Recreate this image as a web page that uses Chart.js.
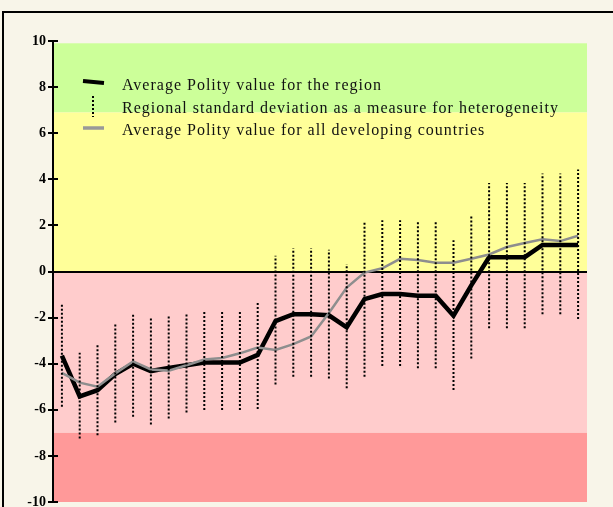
<!DOCTYPE html>
<html>
<head>
<meta charset="utf-8">
<script src="https://cdn.jsdelivr.net/npm/chart.js@4.4.0/dist/chart.umd.min.js"></script>
<style>
  html, body { margin: 0; padding: 0; background: #f8f5e9; overflow: hidden; }
  #wrap { position: relative; width: 613px; height: 507px; overflow: hidden; }
  #frame { position: absolute; left: 2px; top: 11px; width: 620px; height: 520px;
           border-top: 2px solid #000; border-left: 2px solid #000; }
  canvas { position: absolute; left: 0; top: 0; }
</style>
</head>
<body>
<div id="wrap">
  <div id="frame"></div>
  <canvas id="polityChart" width="613" height="507"></canvas>
</div>
<script>
// Polity values, one point per period (no period labels shown on the chart)
const periods = ['1', '2', '3', '4', '5', '6', '7', '8', '9', '10',
  '11', '12', '13', '14', '15', '16', '17', '18', '19', '20',
  '21', '22', '23', '24', '25', '26', '27', '28', '29', '30'];

const regionAvg = [-3.65, -5.42, -5.15, -4.45, -4.0, -4.32, -4.18, -4.07, -3.95, -3.95,
  -3.95, -3.62, -2.15, -1.85, -1.85, -1.9, -2.42, -1.2, -0.98, -0.98,
  -1.05, -1.05, -1.92, -0.6, 0.62, 0.62, 0.62, 1.15, 1.15, 1.15];

const allDeveloping = [-4.4, -4.82, -5.0, -4.42, -3.9, -4.25, -4.3, -4.07, -3.82, -3.75,
  -3.55, -3.3, -3.4, -3.15, -2.82, -1.8, -0.7, -0.05, 0.14, 0.55,
  0.5, 0.38, 0.38, 0.55, 0.74, 1.06, 1.24, 1.4, 1.32, 1.55];

// ends of the regional standard deviation bars
const sdHigh = [-1.38, -3.52, -3.19, -2.25, -1.86, -2.0, -1.91, -1.86, -1.74, -1.74,
  -1.74, -1.3, 0.68, 1.01, 1.01, 0.94, 0.32, 2.14, 2.22, 2.22,
  2.14, 2.14, 1.36, 2.39, 3.84, 3.84, 3.84, 4.25, 4.25, 4.42];
const sdLow = [-5.87, -7.25, -7.1, -6.55, -6.3, -6.64, -6.38, -6.12, -6.01, -6.01,
  -6.01, -5.97, -4.9, -4.57, -4.57, -4.64, -5.07, -4.57, -4.1, -4.1,
  -4.2, -4.2, -5.14, -3.77, -2.46, -2.46, -2.46, -1.86, -1.86, -2.06];

const yTicks = [-10, -8, -6, -4, -2, 0, 2, 4, 6, 8, 10];

// background regime bands
const bandFrom = [6.9, 0, -7, -10];
const bandTo = [9.9, 6.9, 0, -7];
const bandColors = ['#ccff99', '#ffff99', '#ffcccc', '#ff9999'];

const legendLabels = [
  'Average Polity value for the region',
  'Regional standard deviation as a measure for heterogeneity',
  'Average Polity value for all developing countries'
];

// one dotted segment per period, separated by gaps
const sdPoints = [];
periods.forEach((p, i) => {
  sdPoints.push({ x: p, y: sdLow[i] });
  sdPoints.push({ x: p, y: sdHigh[i] });
  sdPoints.push({ x: p, y: null });
});

const bandsPlugin = {
  id: 'bands',
  beforeDraw(chart) {
    const { ctx, chartArea } = chart;
    const y = chart.scales.y;
    ctx.save();
    bandFrom.forEach((from, i) => {
      const top = y.getPixelForValue(bandTo[i]);
      const bottom = y.getPixelForValue(from);
      ctx.fillStyle = bandColors[i];
      ctx.fillRect(chartArea.left, top, chartArea.right - chartArea.left, bottom - top);
    });
    ctx.restore();
  },
  afterDraw(chart) {
    const { ctx, chartArea } = chart;
    const y = chart.scales.y;
    ctx.save();
    // inner half of the cross ticks
    ctx.strokeStyle = '#000';
    ctx.lineWidth = 2;
    yTicks.forEach(v => {
      const py = Math.round(y.getPixelForValue(v));
      ctx.beginPath();
      ctx.moveTo(chartArea.left, py);
      ctx.lineTo(chartArea.left + 5, py);
      ctx.stroke();
    });

    // legend
    const lx = 83, tx = 122, rows = [90, 112.5, 135];
    ctx.lineCap = 'butt';
    ctx.strokeStyle = '#000';
    ctx.lineWidth = 4;
    ctx.beginPath();
    ctx.moveTo(lx, 81);
    ctx.lineTo(lx + 21, 83);
    ctx.stroke();

    ctx.lineWidth = 2;
    ctx.setLineDash([2, 2]);
    ctx.beginPath();
    ctx.moveTo(93, 96);
    ctx.lineTo(93, 117);
    ctx.stroke();
    ctx.setLineDash([]);

    ctx.strokeStyle = '#999999';
    ctx.lineWidth = 3.5;
    ctx.beginPath();
    ctx.moveTo(lx, 128);
    ctx.lineTo(lx + 21, 128);
    ctx.stroke();

    ctx.fillStyle = '#111';
    ctx.font = '16px "Liberation Serif"';
    ctx.letterSpacing = '1px';
    ctx.textBaseline = 'alphabetic';
    ctx.textAlign = 'left';
    legendLabels.forEach((t, i) => ctx.fillText(t, tx, rows[i]));
    ctx.restore();
  }
};

const ctx = document.getElementById('polityChart').getContext('2d');
const polityChart = new Chart(ctx, {
  type: 'line',
  data: {
    labels: periods,
    datasets: [
      {
        label: legendLabels[1],
        data: sdPoints,
        borderColor: '#000',
        borderWidth: 2,
        borderDash: [2, 2],
        pointRadius: 0,
        spanGaps: false,
        tension: 0
      },
      {
        label: legendLabels[2],
        data: allDeveloping,
        borderColor: '#8e8e8e',
        borderWidth: 2.5,
        pointRadius: 0,
        tension: 0
      },
      {
        label: legendLabels[0],
        data: regionAvg,
        borderColor: '#000',
        borderWidth: 4.5,
        pointRadius: 0,
        tension: 0
      }
    ]
  },
  options: {
    responsive: false,
    animation: false,
    devicePixelRatio: 1,
    layout: { padding: { left: 0, top: 41, right: 26, bottom: 5 } },
    plugins: {
      legend: { display: false },
      tooltip: { enabled: false }
    },
    scales: {
      x: {
        type: 'category',
        display: false,
        offset: true
      },
      y: {
        min: -10,
        max: 10,
        afterFit(scale) {
          scale.width = 53;
          scale.paddingTop = 0;
          scale.paddingBottom = 0;
        },
        afterBuildTicks(scale) { scale.ticks = yTicks.map(v => ({ value: v })); },
        border: { display: true, color: '#000', width: 2 },
        grid: {
          drawOnChartArea: true,
          drawTicks: true,
          tickLength: 5,
          lineWidth: 2,
          color: c => (c.tick && c.tick.value === 0 ? '#000' : 'rgba(0,0,0,0)'),
          tickColor: '#000'
        },
        ticks: {
          color: '#000',
          padding: 2,
          font: { family: '"Liberation Serif"', size: 14, weight: 'bold' }
        }
      }
    }
  },
  plugins: [bandsPlugin]
});
</script>
</body>
</html>
